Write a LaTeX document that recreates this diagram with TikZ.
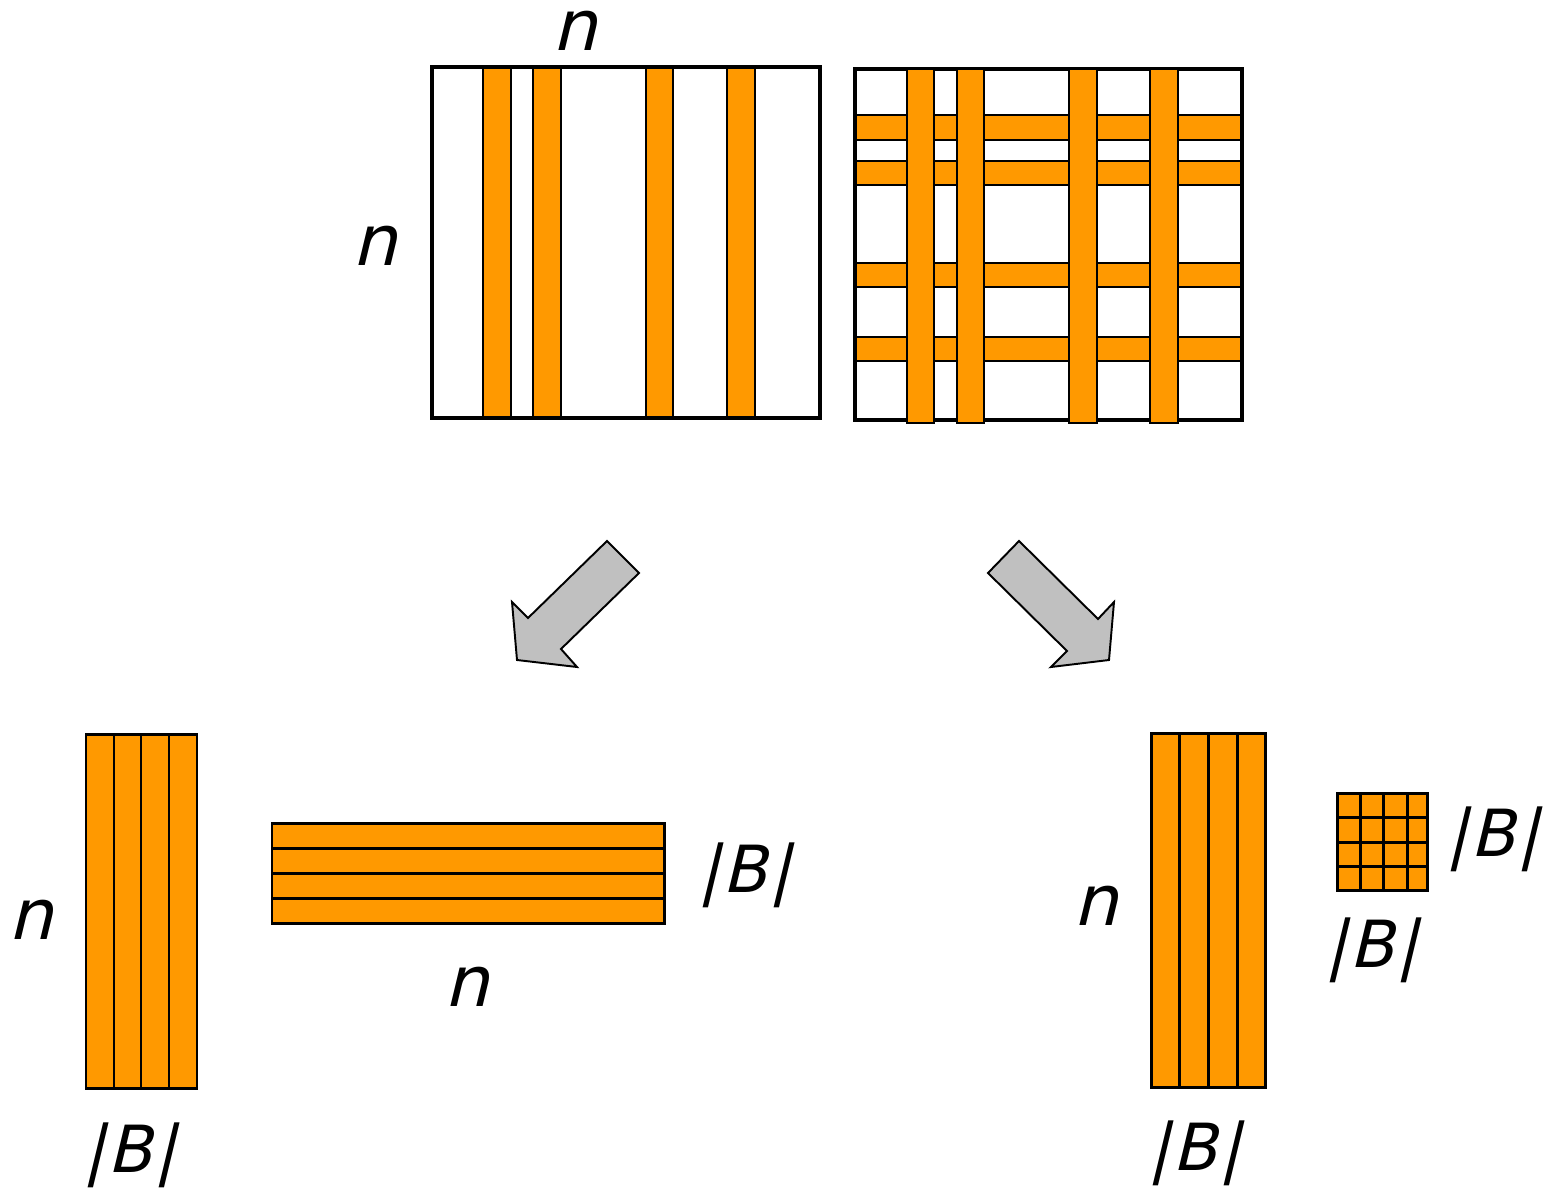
\documentclass[tikz,border=0pt]{standalone}
\usepackage{fontspec}
\setmainfont{DejaVu Sans}
\newfontfamily\lblfont[FakeSlant=0.24]{DejaVu Sans}
\definecolor{stripe}{HTML}{FF9900}
\definecolor{arrowgray}{HTML}{C0C0C0}
\begin{document}
\begin{tikzpicture}[x=0.02cm,y=-0.02cm,
  frame/.style={draw=black,line width=2.8pt},
  bar/.style={fill=stripe,draw=black,line width=1pt},
  block/.style={fill=stripe,draw=black,line width=1.7pt},
  bigarrow/.style={fill=arrowgray,draw=black,line width=1.1pt,line join=miter},
  nlbl/.style={inner sep=0pt,font=\fontsize{40}{40}\selectfont\lblfont},
  blbl/.style={inner sep=0pt,font=\fontsize{37}{37}\selectfont\lblfont}]
\useasboundingbox (0,0) rectangle (1552,1190);

% left matrix (column stripes)
\foreach \a/\b in {483/511,533/561,646/673,727/755}
  \draw[bar] (\a,67) rectangle (\b,418);
\draw[frame] (432,67) rectangle (820,418);

% right matrix (rows and columns)
\foreach \a/\b in {115/140,161/185,263/287,337/361}
  \draw[bar] (855,\a) rectangle (1242,\b);
\draw[frame] (855,69) rectangle (1242,420);
\foreach \a/\b in {907/934,957/984,1069/1097,1150/1178}
  \draw[bar] (\a,69) rectangle (\b,423);

% arrows
\draw[bigarrow] (607,541) -- (639,573) -- (561,649) -- (577,667) -- (517,660)
  -- (512,602) -- (528,618) -- cycle;
\draw[bigarrow] (1019,541) -- (1098,619) -- (1114,602) -- (1109,660) -- (1051,667)
  -- (1067,651) -- (988,573) -- cycle;

% bottom-left vertical stack
\foreach \a/\b in {86/114,114/141,141/169,169/197}
  \draw[block] (\a,734) rectangle (\b,1088);
% horizontal stack
\foreach \a/\b in {823/848,848/873,873/898,898/923}
  \draw[block] (272,\a) rectangle (664,\b);
% bottom-right vertical stack
\foreach \a/\b in {1151/1179,1179/1208,1208/1237,1237/1265}
  \draw[block] (\a,733) rectangle (\b,1087);
% small grid
\draw[block] (1337,793) rectangle (1427,890);
\foreach \x in {1360,1383,1407} \draw[line width=1.7pt] (\x,793) -- (\x,890);
\foreach \y in {817,842,866} \draw[line width=1.7pt] (1337,\y) -- (1427,\y);

% labels
\node[nlbl] (ntop) at (575,31) {n};
\node[nlbl] (nleft) at (375,246) {n};
\node[nlbl] (nbl) at (31,920) {n};
\node[blbl] (bbl) at (130,1155) {|\kern1.5ptB\kern1.5pt|};
\node[blbl] (bh) at (745,875) {|\kern1.5ptB\kern1.5pt|};
\node[nlbl] (nh) at (467,987) {n};
\node[nlbl] (nbr) at (1096,906) {n};
\node[blbl] (bgr) at (1493,839) {|\kern1.5ptB\kern1.5pt|};
\node[blbl] (bgb) at (1372,950) {|\kern1.5ptB\kern1.5pt|};
\node[blbl] (bbr) at (1195,1153) {|\kern1.5ptB\kern1.5pt|};
\end{tikzpicture}
\end{document}
